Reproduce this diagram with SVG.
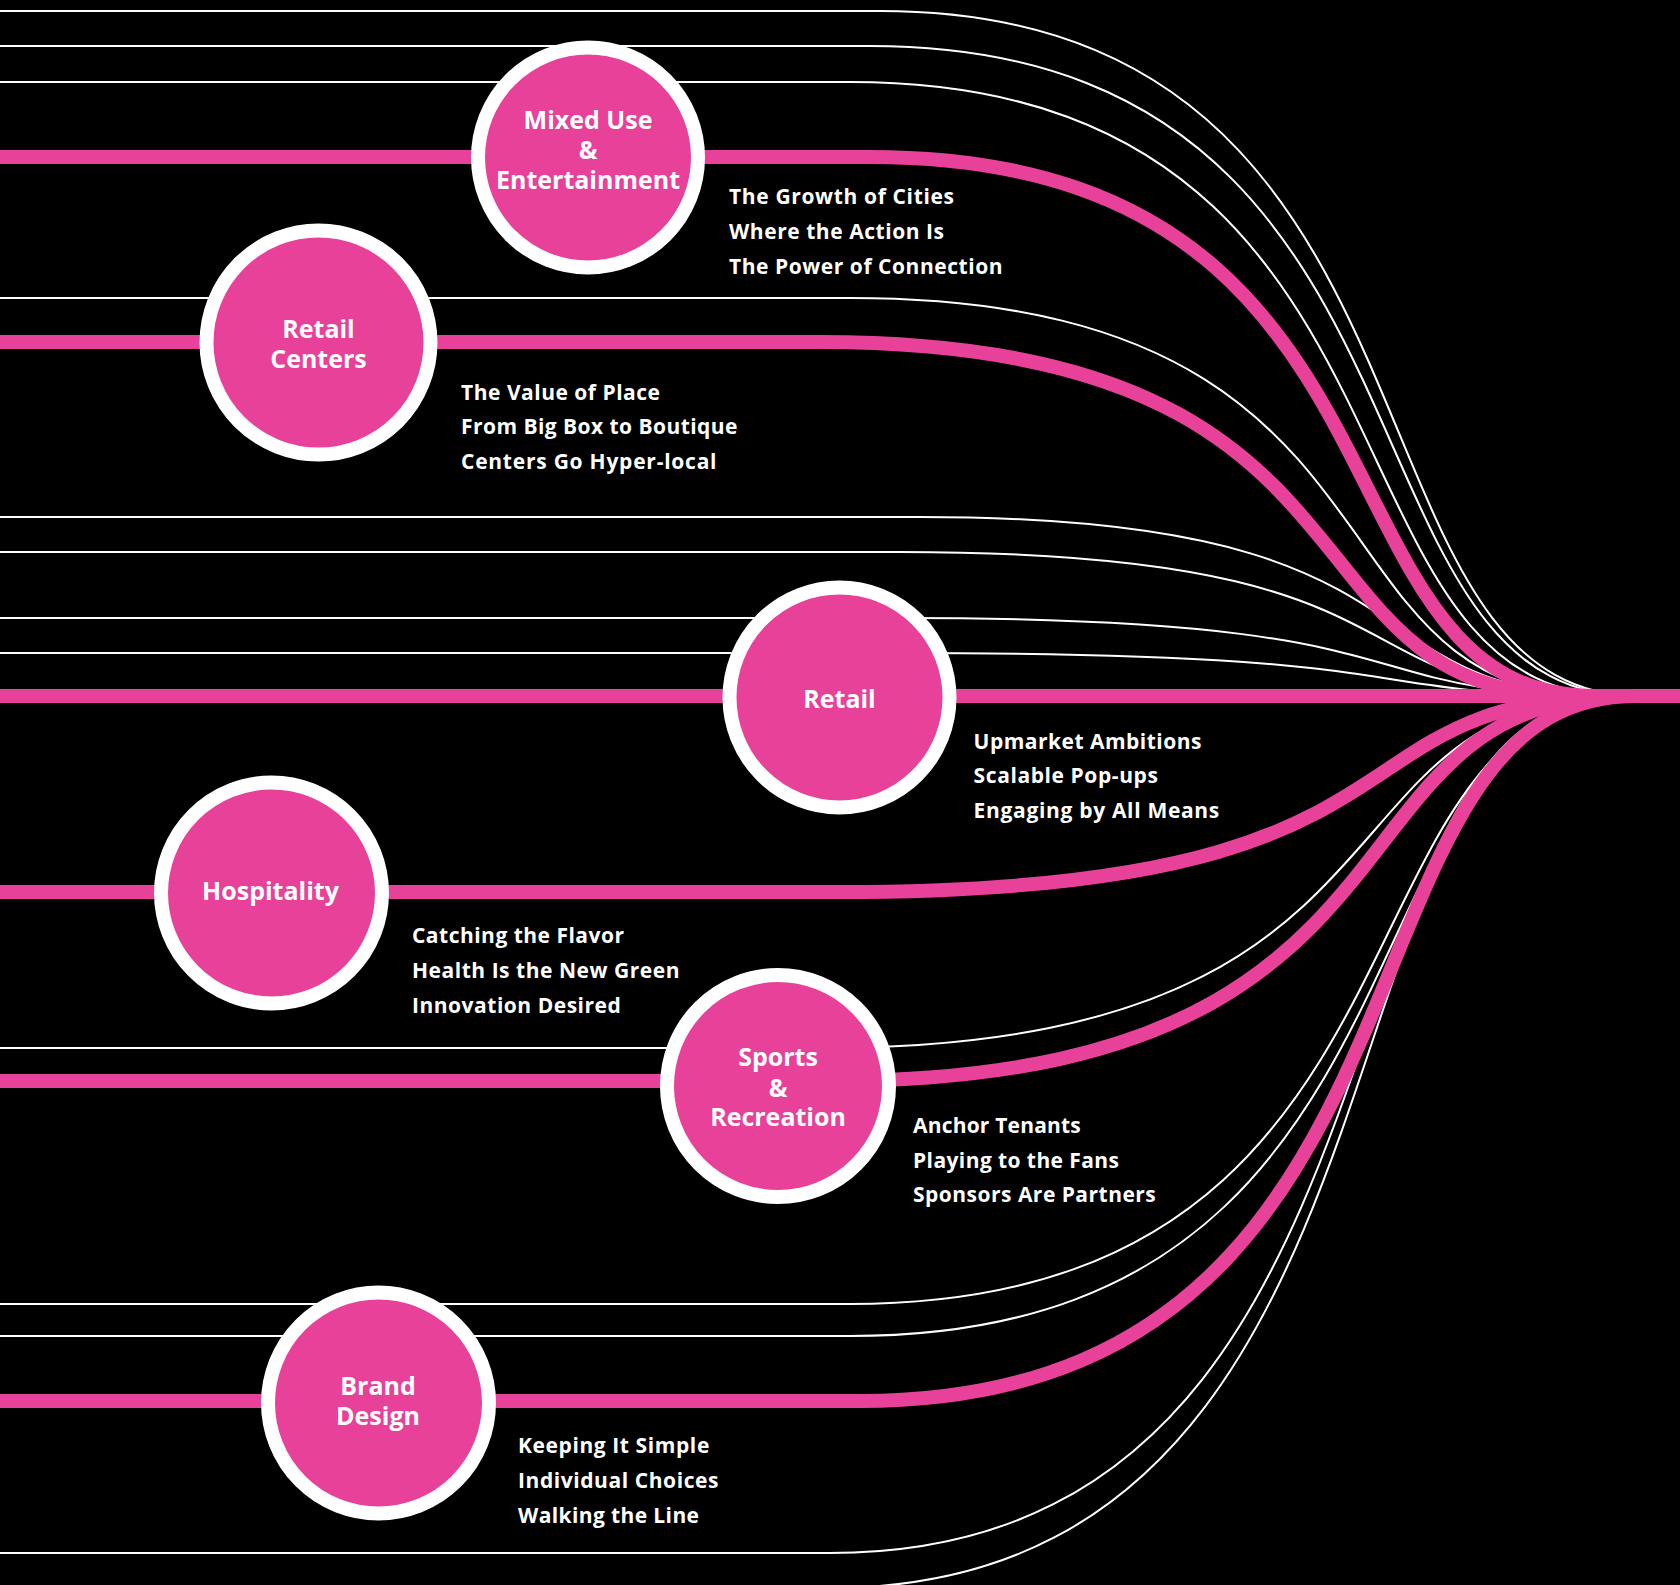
<svg xmlns="http://www.w3.org/2000/svg" width="1680" height="1585" viewBox="0 0 1680 1585">
<defs>
<style>
.w{fill:none;stroke:#ffffff;stroke-width:2}
.p{fill:none;stroke:#E8419A;stroke-width:14}
.node{fill:#E8419A;stroke:#ffffff;stroke-width:14}
.lbl{font-family:"Open Sans","Noto Sans","Liberation Sans",sans-serif;font-weight:700;font-size:25px;fill:#ffffff;text-anchor:middle}
.sub{font-family:"Open Sans","Noto Sans","Liberation Sans",sans-serif;font-weight:700;font-size:21px;fill:#ffffff}
</style>
</defs>
<rect x="0" y="0" width="1680" height="1585" fill="#000000"/>
<g id="connectors">
<path class="w" d="M0,11 H880 C1473,11 1327,696 1640,696"/>
<path class="w" d="M0,46 H870 C1467,46 1321,696 1635,696"/>
<path class="w" d="M0,82 H850 C1451,82 1304,696 1620,696"/>
<path class="w" d="M0,298 H850 C1435,298 1292,696 1600,696"/>
<path class="w" d="M0,517 H920 C1466,517 1333,696 1620,696"/>
<path class="w" d="M0,552 H900 C1454,552 1319,696 1610,696"/>
<path class="w" d="M0,618 H900 C1462,618 1325,696 1620,696"/>
<path class="w" d="M0,653 H900 C1462,653 1325,696 1620,696"/>
<path class="w" d="M0,1048 H820 C1452,1048 1298,696 1630,696"/>
<path class="w" d="M0,1304 H850 C1466,1304 1316,696 1640,696"/>
<path class="w" d="M0,1336 H850 C1470,1336 1319,696 1645,696"/>
<path class="w" d="M0,1553 H830 C1446,1553 1296,696 1620,696"/>
<path class="w" d="M0,1588 H830 C1450,1588 1299,696 1625,696"/>
<path class="p" d="M0,157 H870 C1439,157 1301,696 1595,696 H1680"/>
<path class="p" d="M0,342 H820 C1413,342 1268,696 1575,696 H1680"/>
<path class="p" d="M0,696 H1680"/>
<path class="p" d="M0,892 H840 C1464,892 1312,696 1630,696 H1680"/>
<path class="p" d="M0,1081 H830 C1462,1081 1308,696 1630,696 H1680"/>
<path class="p" d="M0,1401 H860 C1468,1401 1320,696 1635,696 H1680"/>
</g>
<g id="node-mixed-use">
<circle class="node" cx="588" cy="157.5" r="110"/>
<text class="lbl"><tspan x="588" y="129.3">Mixed Use</tspan><tspan x="588" y="159.3">&amp;</tspan><tspan x="588" y="189.3">Entertainment</tspan></text>
<text class="sub" x="729" y="204.3" textLength="225" lengthAdjust="spacing">The Growth of Cities</text>
<text class="sub" x="729" y="239.3" textLength="215" lengthAdjust="spacing">Where the Action Is</text>
<text class="sub" x="729" y="273.7" textLength="273.5" lengthAdjust="spacing">The Power of Connection</text>
</g>
<g id="node-retail-centers">
<circle class="node" cx="318.5" cy="342.5" r="112"/>
<text class="lbl"><tspan x="318.5" y="337.7">Retail</tspan><tspan x="318.5" y="367.7">Centers</tspan></text>
<text class="sub" x="461" y="400" textLength="199" lengthAdjust="spacing">The Value of Place</text>
<text class="sub" x="461" y="434.3" textLength="276.5" lengthAdjust="spacing">From Big Box to Boutique</text>
<text class="sub" x="461" y="469.3" textLength="255.5" lengthAdjust="spacing">Centers Go Hyper-local</text>
</g>
<g id="node-retail">
<circle class="node" cx="839.5" cy="697.5" r="110"/>
<text class="lbl" x="839.5" y="707.7">Retail</text>
<text class="sub" x="973.6" y="749.3" textLength="227.8" lengthAdjust="spacing">Upmarket Ambitions</text>
<text class="sub" x="973.6" y="782.7" textLength="184.3" lengthAdjust="spacing">Scalable Pop-ups</text>
<text class="sub" x="973.6" y="818.3" textLength="245.7" lengthAdjust="spacing">Engaging by All Means</text>
</g>
<g id="node-hospitality">
<circle class="node" cx="271.5" cy="893" r="110.5"/>
<text class="lbl" x="270.5" y="900">Hospitality</text>
<text class="sub" x="412" y="942.7" textLength="212" lengthAdjust="spacing">Catching the Flavor</text>
<text class="sub" x="412" y="977.7" textLength="267.5" lengthAdjust="spacing">Health Is the New Green</text>
<text class="sub" x="412" y="1012.7" textLength="208.8" lengthAdjust="spacing">Innovation Desired</text>
</g>
<g id="node-sports">
<circle class="node" cx="778" cy="1086" r="111"/>
<text class="lbl"><tspan x="778" y="1066">Sports</tspan><tspan x="778" y="1096.5">&amp;</tspan><tspan x="778" y="1126">Recreation</tspan></text>
<text class="sub" x="913" y="1133.3" textLength="167.8" lengthAdjust="spacing">Anchor Tenants</text>
<text class="sub" x="913" y="1168.3" textLength="206" lengthAdjust="spacing">Playing to the Fans</text>
<text class="sub" x="913" y="1202.3" textLength="242.8" lengthAdjust="spacing">Sponsors Are Partners</text>
</g>
<g id="node-brand-design">
<circle class="node" cx="378.5" cy="1403" r="110.5"/>
<text class="lbl"><tspan x="378" y="1395">Brand</tspan><tspan x="378" y="1425">Design</tspan></text>
<text class="sub" x="518" y="1452.7" textLength="191.3" lengthAdjust="spacing">Keeping It Simple</text>
<text class="sub" x="518" y="1487.7" textLength="200.5" lengthAdjust="spacing">Individual Choices</text>
<text class="sub" x="518" y="1522.7" textLength="181" lengthAdjust="spacing">Walking the Line</text>
</g>
</svg>
